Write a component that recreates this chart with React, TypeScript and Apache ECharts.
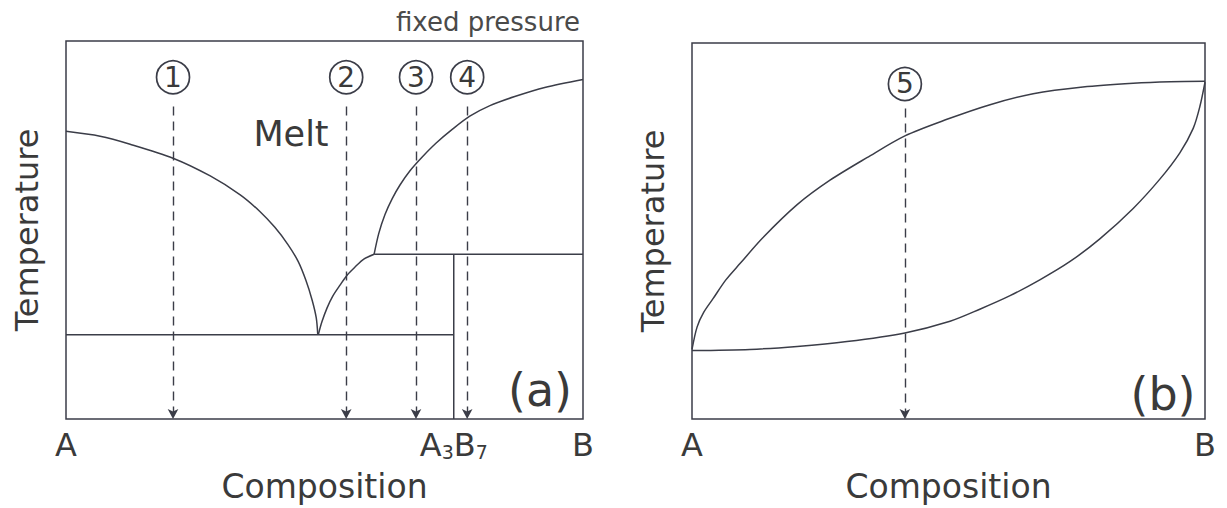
import React, { useEffect, useRef } from "react";
import * as echarts from "echarts";

// ---------- Data (composition 0..100 A→B, temperature 0..100 relative) ----------
// Panel (a): binary system with eutectic and incongruently melting compound A3B7
const liquidusLeftA: number[][] = [
  [0, 76.1], [6.6, 74.8], [12.4, 72.7], [20.7, 69.0], [27.9, 64.3], [33.7, 59.3],
  [37.5, 54.9], [40.4, 50.7], [42.9, 46.2], [44.9, 41.7], [46.4, 36.7], [47.6, 31.5],
  [48.4, 26.8], [48.7, 22.3],
];
const liquidusMidA: number[][] = [
  [48.8, 22.3], [49.5, 25.7], [50.5, 29.4], [51.6, 32.5], [53.0, 35.4], [54.4, 38.1],
  [55.9, 40.2], [57.6, 42.3], [59.6, 43.6],
];
const liquidusRightA: number[][] = [
  [59.6, 43.6], [60.5, 49.1], [61.7, 54.1], [63.1, 58.3], [64.6, 61.9], [66.5, 65.6],
  [68.9, 69.3], [71.6, 73.0], [74.7, 76.6], [78.1, 80.1], [82.0, 82.9], [86.8, 85.3],
  [92.6, 87.7], [100, 89.8],
];
const eutecticLineA: number[][] = [[0, 22.3], [75, 22.3]];
const peritecticLineA: number[][] = [[59.6, 43.6], [100, 43.6]];
const compoundLineA: number[][] = [[75, 43.6], [75, 0]];
const pathXA: number[] = [20.7, 54.2, 67.7, 77.6];
const pathTopA = 82.7;
const markerYA = 90.4;
const markerLabelsA: string[] = ["1", "2", "3", "4"];
const tickValuesA: number[] = [0, 75, 100];
const tickLabelsA: string[] = ["{m|A}", "{m|A}{s|3}{m|B}{s|7}", "{m|B}"];

// Panel (b): complete solid solution
const liquidusB: number[][] = [
  [0, 18.5], [1.0, 24.5], [2.3, 28.4], [4.1, 32.0], [6.6, 37.0], [9.4, 41.4],
  [13.8, 48.2], [20.5, 57.0], [26.9, 63.5], [34.1, 69.5], [41.5, 75.3], [49.7, 79.7],
  [58.1, 83.6], [66.5, 86.5], [76.2, 88.3], [86.0, 89.3], [93.2, 89.7], [100, 89.8],
];
const solidusB: number[][] = [
  [0, 18.2], [11.3, 18.5], [20.5, 19.3], [30.2, 20.6], [41.5, 22.9], [50.3, 26.0],
  [56.1, 29.2], [62.0, 32.8], [67.8, 37.0], [73.7, 41.9], [79.5, 47.9], [86.0, 56.0],
  [91.2, 63.8], [95.1, 70.8], [97.7, 77.3], [99.0, 83.1], [100, 89.6],
];
const pathXB: number[] = [41.5];
const pathTopB = 82.6;
const markerYB = 89.1;
const markerLabelsB: string[] = ["5"];
const tickValuesB: number[] = [0, 100];
const tickLabelsB: string[] = ["{m|A}", "{m|B}"];

// ---------- Styles ----------
const LINE = "#3b3d48";
const TEXT = "#3a3a3a";
const FONT = "DejaVu Sans";

function curve(data: number[][], idx: number, smooth: number | boolean = 0.3) {
  return {
    type: "line",
    xAxisIndex: idx,
    yAxisIndex: idx,
    data,
    smooth,
    symbol: "none",
    silent: true,
    lineStyle: { color: LINE, width: 1.5 },
  };
}

function arrows(xs: number[], top: number, idx: number) {
  return {
    type: "line",
    xAxisIndex: idx,
    yAxisIndex: idx,
    data: [],
    silent: true,
    markLine: {
      silent: true,
      symbol: ["none", "arrow"],
      symbolSize: [8, 10],
      label: { show: false },
      lineStyle: { color: LINE, width: 1.4, type: [9, 6] },
      emphasis: { disabled: true },
      data: xs.map((x) => [{ coord: [x, top] }, { coord: [x, 0] }]),
    },
  };
}

function markers(xs: number[], y: number, labels: string[], idx: number) {
  return {
    type: "scatter",
    xAxisIndex: idx,
    yAxisIndex: idx,
    silent: true,
    symbol: "circle",
    symbolSize: 33,
    itemStyle: { color: "#ffffff", borderColor: LINE, borderWidth: 1.7, opacity: 1 },
    label: {
      show: true,
      position: "inside",
      formatter: (p: any) => labels[p.dataIndex],
      fontFamily: FONT,
      fontSize: 28,
      color: TEXT,
    },
    data: xs.map((x) => [x, y]),
    z: 5,
  };
}

function xAxis(idx: number, ticks: number[], labels: string[], interval: number) {
  return {
    type: "value",
    gridIndex: idx,
    min: 0,
    max: 100,
    interval,
    axisLine: { show: false },
    axisTick: { show: false },
    splitLine: { show: false },
    axisLabel: {
      show: true,
      margin: 10,
      showMinLabel: true,
      showMaxLabel: true,
      formatter: (v: number) => {
        const i = ticks.indexOf(v);
        return i >= 0 ? labels[i] : "";
      },
      rich: {
        m: { fontFamily: FONT, fontSize: 32, color: TEXT },
        s: { fontFamily: FONT, fontSize: 19, color: TEXT, verticalAlign: "bottom" },
      },
    },
    name: "Composition",
    nameLocation: "middle",
    nameGap: 51,
    nameTextStyle: { fontFamily: FONT, fontSize: 33, color: TEXT },
  };
}

function yAxis(idx: number) {
  return {
    type: "value",
    gridIndex: idx,
    min: 0,
    max: 100,
    axisLine: { show: false },
    axisTick: { show: false },
    axisLabel: { show: false },
    splitLine: { show: false },
    name: "Temperature",
    nameLocation: "middle",
    nameGap: 23,
    nameTextStyle: { fontFamily: FONT, fontSize: 32, color: TEXT },
  };
}

export default function App() {
  const ref = useRef<HTMLDivElement>(null);

  useEffect(() => {
    if (!ref.current) return;
    const chart = echarts.init(ref.current, undefined, { renderer: "svg" });
    chart.setOption({
      animation: false,
      backgroundColor: "#ffffff",
      grid: [
        { left: 66, top: 41, width: 517, height: 381, show: true, borderColor: LINE, borderWidth: 1.5, containLabel: false },
        { left: 692, top: 43, width: 513, height: 384, show: true, borderColor: LINE, borderWidth: 1.5, containLabel: false },
      ],
      xAxis: [xAxis(0, tickValuesA, tickLabelsA, 25), xAxis(1, tickValuesB, tickLabelsB, 100)],
      yAxis: [yAxis(0), yAxis(1)],
      series: [
        curve(liquidusLeftA, 0),
        curve(liquidusMidA, 0),
        curve(liquidusRightA, 0),
        curve(eutecticLineA, 0, false),
        curve(peritecticLineA, 0, false),
        curve(compoundLineA, 0, false),
        arrows(pathXA, pathTopA, 0),
        markers(pathXA, markerYA, markerLabelsA, 0),
        curve(liquidusB, 1),
        curve(solidusB, 1),
        arrows(pathXB, pathTopB, 1),
        markers(pathXB, markerYB, markerLabelsB, 1),
      ],
      graphic: [
        {
          type: "text",
          style: { text: "fixed pressure", x: 580, y: 22, align: "right", verticalAlign: "middle", font: `26px "${FONT}"`, fill: "#4a4a4a" },
        },
        {
          type: "text",
          style: { text: "Melt", x: 291, y: 134, align: "center", verticalAlign: "middle", font: `35px "${FONT}"`, fill: TEXT },
        },
        {
          type: "text",
          style: { text: "(a)", x: 540, y: 390, align: "center", verticalAlign: "middle", font: `46px "${FONT}"`, fill: TEXT },
        },
        {
          type: "text",
          style: { text: "(b)", x: 1163, y: 394, align: "center", verticalAlign: "middle", font: `46px "${FONT}"`, fill: TEXT },
        },
      ],
    });
    return () => chart.dispose();
  }, []);

  return (
    <div
      ref={ref}
      style={{ position: "fixed", left: 0, top: 0, width: 1227, height: 508, background: "#fff" }}
    />
  );
}
